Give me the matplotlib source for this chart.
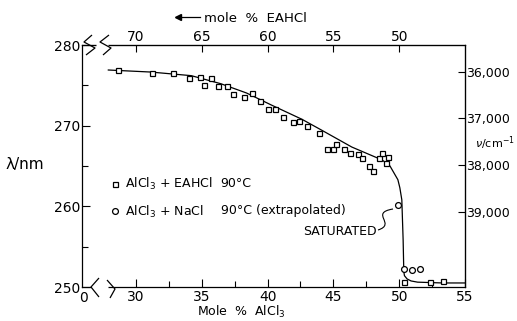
import numpy as np
import matplotlib.pyplot as plt
from matplotlib.lines import Line2D
from matplotlib.path import Path
from matplotlib.patches import PathPatch
from matplotlib.ticker import FixedLocator

# AlCl3 + EAHCl, 90 C (mole % AlCl3, wavelength nm)
eah_x = [28.6, 31.25, 32.8, 34.0, 34.85, 35.7, 35.2, 36.2, 36.9, 37.4, 38.2, 38.8,
         39.4, 40.0, 40.6, 41.2, 41.9, 42.4, 43.0, 43.9, 44.5, 45.0, 45.2, 45.8,
         46.3, 46.85, 47.15, 47.7, 48.0, 48.45, 48.7, 49.15, 49.0, 50.35, 52.35, 53.35]
eah_y = [276.9, 276.5, 276.5, 275.9, 276.0, 275.9, 275.0, 274.9, 274.9, 273.9, 273.55, 274.05,
         273.05, 272.05, 272.05, 271.05, 270.45, 270.6, 269.95, 269.1, 267.1, 267.1, 267.7, 267.1,
         266.6, 266.5, 266.0, 265.0, 264.4, 266.0, 266.6, 266.1, 265.4, 250.6, 250.6, 250.75]

# AlCl3 + NaCl, 90 C (extrapolated)
nacl_x = [49.9, 50.4, 51.0, 51.6]
nacl_y = [260.15, 252.2, 252.1, 252.2]

# hand drawn curve
fit_x = [27.9, 31.1, 34.2, 36.45, 38.4, 40.3, 42.6, 44.1, 46.4, 48.7, 49.3, 49.6,
         49.9, 50.05, 50.2, 50.3, 50.35, 50.4, 50.6, 50.9, 51.4, 53.3, 55.0]
fit_y = [276.9, 276.65, 276.2, 275.2, 274.05, 272.55, 270.8, 269.45, 267.35, 265.75, 265.0, 264.15,
         263.3, 262.3, 260.8, 255.8, 251.9, 251.4, 251.0, 250.75, 250.6, 250.5, 250.5]

x_ticks = [30, 35, 40, 45, 50, 55]
x_minor = [32.5, 37.5, 42.5, 47.5, 52.5]
top_ticks = [70, 65, 60, 55, 50]
y_ticks = [250, 260, 270, 280]
y_minor = [255, 265, 275]
nu_ticks = [36000, 37000, 38000, 39000]
nu_labels = ['36,000', '37,000', '38,000', '39,000']

W, H = 517, 321
fig = plt.figure(figsize=(W / 100, H / 100), dpi=100)
ax = fig.add_axes([82 / W, 1 - 287 / H, (465 - 82) / W, (287 - 45) / H])

ax.plot(fit_x, fit_y, color='black', lw=0.9, zorder=3)
ax.plot(eah_x, eah_y, ls='none', marker='s', ms=3.6, mfc='white', mec='black',
        mew=0.9, zorder=4, label='AlCl$_3$ + EAHCl')
ax.plot(nacl_x, nacl_y, ls='none', marker='o', ms=4.2, mfc='white', mec='black',
        mew=0.9, zorder=4, label='AlCl$_3$ + NaCl')

ax.set_xlim(25.9, 55)
ax.set_ylim(250, 280)
ax.set_xticks(x_ticks)
ax.xaxis.set_minor_locator(FixedLocator(x_minor))
ax.set_yticks(y_ticks)
ax.yaxis.set_minor_locator(FixedLocator(y_minor))
ax.tick_params(which='both', direction='in', width=0.8, labelsize=10, pad=2)
ax.tick_params(which='major', length=6)
ax.tick_params(which='minor', length=4)
ax.tick_params(axis='y', pad=1)
for s in ax.spines.values():
    s.set_linewidth(0.9)

sec_x = ax.secondary_xaxis('top', functions=(lambda v: 100 - v, lambda v: 100 - v))
sec_x.set_xticks(top_ticks)
sec_x.tick_params(direction='in', length=5, width=0.8, labelsize=10, pad=1)


def lam2nu(lam):
    return 36000 + (276.69 - np.asarray(lam, float)) / 0.005787


def nu2lam(nu):
    return 276.69 - (np.asarray(nu, float) - 36000) * 0.005787


sec_y = ax.secondary_yaxis('right', functions=(lam2nu, nu2lam))
sec_y.set_yticks(nu_ticks)
sec_y.set_yticklabels(nu_labels)
sec_y.tick_params(direction='in', length=5, width=0.8, labelsize=9, pad=1)

# legend
leg = ax.legend(loc='upper left', bbox_to_anchor=(0.06, 0.485), frameon=False,
                fontsize=9, handlelength=0.6, handletextpad=0.5, labelspacing=0.95,
                borderpad=0)
ax.text(0.362, 0.428, '90°C', transform=ax.transAxes, fontsize=9, va='center')
ax.text(0.362, 0.316, '90°C (extrapolated)', transform=ax.transAxes, fontsize=9, va='center')

# saturated label
ax.text(48.3, 256.9, 'SATURATED', fontsize=9, ha='right', va='center')
s_path = Path([(378, 230), (397, 224), (369, 213), (393, 209)],
              [Path.MOVETO, Path.CURVE4, Path.CURVE4, Path.CURVE4])
s_path = Path(np.column_stack([[p[0] / W for p in s_path.vertices],
                               [1 - p[1] / H for p in s_path.vertices]]), s_path.codes)
fig.add_artist(PathPatch(s_path, fc='none', ec='black', lw=0.8, transform=fig.transFigure))

# axis labels
ax.set_xlabel('Mole  %  AlCl$_3$', fontsize=9, labelpad=1)
ax.xaxis.set_label_coords(0.415, -0.07)
fig.text(5 / W, 1 - 165 / H, 'λ/nm', fontsize=11, va='center', ha='left')
fig.text(475 / W, 1 - 143 / H, r'$\nu$/cm$^{-1}$', fontsize=8, va='center', ha='left')
fig.text(204 / W, 1 - 18 / H, 'mole  %  EAHCl', fontsize=9.5, va='center', ha='left')
fig.add_artist(Line2D([176 / W, 200 / W], [1 - 17 / H, 1 - 17 / H], color='black', lw=0.9,
                      transform=fig.transFigure))
fig.add_artist(Line2D([178 / W], [1 - 17 / H], marker='<', ms=4, color='black',
                      transform=fig.transFigure))
fig.text(83 / W, 1 - 298 / H, '0', fontsize=10, va='center', ha='center')


# axis breaks
def px_line(xs, ys, color='black', lw=0.9):
    fig.add_artist(Line2D(np.array(xs) / W, 1 - np.array(ys) / H, color=color, lw=lw,
                          transform=fig.transFigure, solid_capstyle='butt'))


px_line([91, 108], [287, 287], color='white', lw=2.5)
px_line([96, 108], [45, 45], color='white', lw=2.5)
px_line([99, 91, 99], [278, 287, 297])
px_line([107, 115, 110], [280, 289, 298])
px_line([92, 84, 95, 86], [35, 42, 48, 55])
px_line([109, 100, 111, 103], [35, 42, 48, 55])

fig.savefig('out.png', dpi=100)
